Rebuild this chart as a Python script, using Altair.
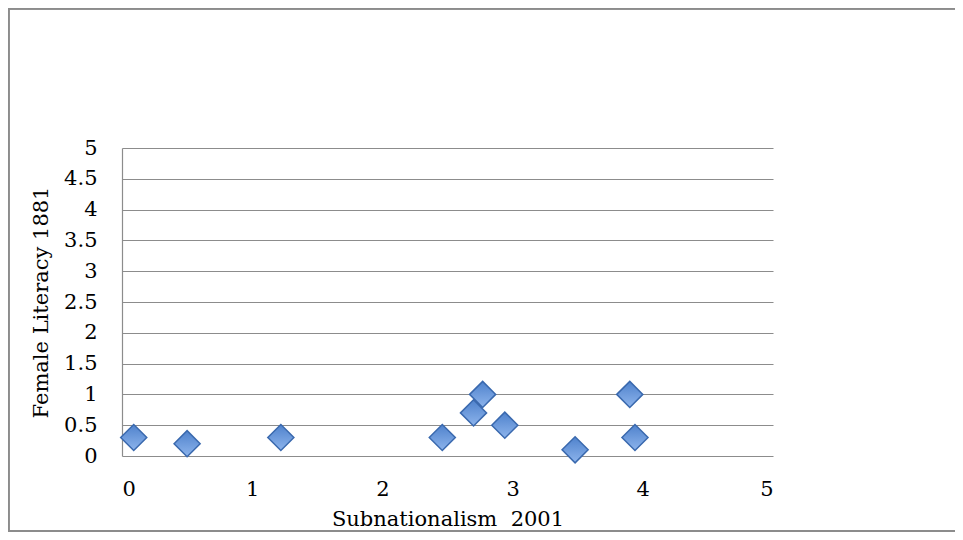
import altair as alt
import pandas as pd

subnationalism_2001 = [0.09, 0.50, 1.22, 2.46, 2.70, 2.77, 2.94, 3.48, 3.90, 3.94]
female_literacy_1881 = [0.3, 0.2, 0.3, 0.3, 0.7, 1.0, 0.5, 0.1, 1.0, 0.3]
x_ticks = [0, 1, 2, 3, 4, 5]
y_ticks = [0, 0.5, 1, 1.5, 2, 2.5, 3, 3.5, 4, 4.5, 5]

df = pd.DataFrame({"x": subnationalism_2001, "y": female_literacy_1881})

FONT = "DejaVu Serif"
GRAY = "#8C8C8C"

points = alt.Chart(df).mark_point(
    shape="diamond",
    size=680,
    filled=True,
    opacity=1,
    fill=alt.Gradient(
        gradient="linear",
        x1=0, y1=0, x2=0, y2=1,
        stops=[
            alt.GradientStop(color="#4F82CC", offset=0),
            alt.GradientStop(color="#8DB4EC", offset=1),
        ],
    ),
    stroke="#3A69AE",
    strokeWidth=1.5,
).encode(
    x=alt.X(
        "x:Q",
        scale=alt.Scale(domain=[0, 5], nice=False),
        axis=alt.Axis(
            title="Subnationalism\u00a0 2001",
            values=x_ticks,
            grid=False,
            domain=False,
            ticks=False,
            labelPadding=22,
            titlePadding=9,
            format="d",
        ),
    ),
    y=alt.Y(
        "y:Q",
        scale=alt.Scale(domain=[0, 5], nice=False),
        axis=alt.Axis(
            title="Female Literacy 1881",
            values=y_ticks,
            grid=True,
            gridColor=GRAY,
            gridWidth=1.2,
            domain=True,
            domainColor=GRAY,
            domainWidth=1.2,
            ticks=False,
            labelPadding=25,
            titlePadding=12,
            format=".1~f",
        ),
    ),
)

left_border = alt.Chart(df).mark_rule(color=GRAY, strokeWidth=1.5).encode(
    x=alt.value(-113.5), y=alt.value(-139.5), y2=alt.value(383.5)
)
top_border = alt.Chart(df).mark_rule(color=GRAY, strokeWidth=1.5).encode(
    x=alt.value(-113.5), x2=alt.value(833), y=alt.value(-139.5)
)
bottom_border = alt.Chart(df).mark_rule(color=GRAY, strokeWidth=1.5).encode(
    x=alt.value(-113.5), x2=alt.value(833), y=alt.value(383.2)
)

chart = alt.layer(left_border, top_border, bottom_border, points).properties(
    width=651,
    height=308,
    autosize=alt.AutoSizeParams(type="none"),
    padding={"left": 114, "top": 140, "right": 182, "bottom": 76},
).configure_view(
    stroke=None
).configure_axis(
    labelFont=FONT,
    titleFont=FONT,
    labelFontSize=21,
    titleFontSize=21,
    labelColor="#000000",
    titleColor="#000000",
    titleFontWeight="normal",
)

chart.save("out.html", embed_options={"renderer": "svg", "actions": False})
